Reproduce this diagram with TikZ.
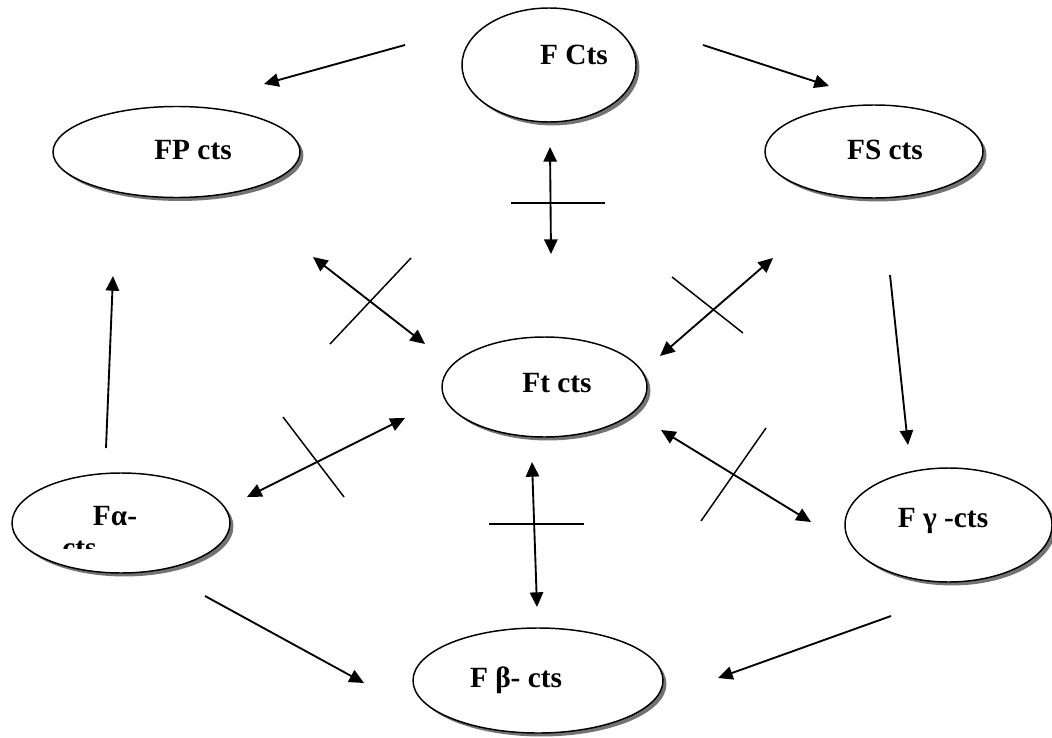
\documentclass[tikz,border=0pt]{standalone}
\usepackage{fontspec}
\setmainfont{Liberation Serif}
\usetikzlibrary{shapes.geometric,shadows,arrows.meta}
\begin{document}
\begin{tikzpicture}[x=0.75pt,y=-0.75pt,
  oval/.style={ellipse, draw=black, line width=1.1pt, fill=white, inner sep=0pt,
    drop shadow={shadow xshift=2.6pt, shadow yshift=-2.6pt, fill=black!55, opacity=1}},
  lbl/.style={font=\fontsize{22}{26}\selectfont\bfseries, anchor=base, inner sep=0pt},
  onearrow/.style={line width=1.4pt, -{Triangle[length=11pt,width=10pt]}},
  twoarrow/.style={line width=1.4pt, {Triangle[length=11pt,width=10pt]}-{Triangle[length=11pt,width=10pt]}},
  crossbar/.style={line width=1.1pt}]
\useasboundingbox (0,0) rectangle (1052,738);

% ellipses (sizes in pt = 0.75 * pixels)
\node[oval, minimum width=130.5pt, minimum height=85.5pt] (fc) at (549,65) {};
\node[oval, minimum width=185.25pt, minimum height=68.25pt] (fp) at (176.5,152) {};
\node[oval, minimum width=163.5pt, minimum height=69.75pt] (fs) at (874,151.5) {};
\node[oval, minimum width=153.75pt, minimum height=75pt] (ft) at (544.5,387) {};
\node[oval, minimum width=163.5pt, minimum height=75pt] (fa) at (121,523) {};
\node[oval, minimum width=155.25pt, minimum height=85.5pt] (fg) at (948.5,525) {};
\node[oval, minimum width=187.5pt, minimum height=78.75pt] (fb) at (538,680.5) {};

% labels
\node[lbl] (fc-t) at (574,65) {F Cts};
\node[lbl] (fp-t) at (193,160) {FP cts};
\node[lbl] (fs-t) at (885,160) {FS cts};
\node[lbl] (ft-t) at (557,392) {Ft cts};
\node[lbl] (fb-t) at (516,687) {F β- cts};
\node[lbl] (fg-t) at (943,527) {F γ -cts};
\node[lbl] (fa-t) at (115,525) {Fα-};
\begin{scope}
  \clip (50,530) rectangle (120,548);
  \node[lbl, anchor=base west] (fa-t2) at (62,557) {cts};
\end{scope}

% end points of connectors
\coordinate (a1s) at (405,45);  \coordinate (a1e) at (264,84);
\coordinate (a2s) at (703,45);  \coordinate (a2e) at (829,86);
\coordinate (a3s) at (890,275); \coordinate (a3e) at (908,445);
\coordinate (a4s) at (106,448); \coordinate (a4e) at (113,276);
\coordinate (a5s) at (205,596); \coordinate (a5e) at (364,683);
\coordinate (a6s) at (891,616); \coordinate (a6e) at (718,678);

\coordinate (b1s) at (550,147); \coordinate (b1e) at (551,254);
\coordinate (c1s) at (511,203); \coordinate (c1e) at (605,203);
\coordinate (b2s) at (313,257); \coordinate (b2e) at (425,344);
\coordinate (c2s) at (411,258); \coordinate (c2e) at (330,344);
\coordinate (b3s) at (773,258); \coordinate (b3e) at (660,356);
\coordinate (c3s) at (672,277); \coordinate (c3e) at (743,333);
\coordinate (b4s) at (405,418); \coordinate (b4e) at (247,497);
\coordinate (c4s) at (283,417); \coordinate (c4e) at (344,497);
\coordinate (b5s) at (532,462); \coordinate (b5e) at (537,607);
\coordinate (c5s) at (489,524); \coordinate (c5e) at (584,524);
\coordinate (b6s) at (661,430); \coordinate (b6e) at (811,522);
\coordinate (c6s) at (766,428); \coordinate (c6e) at (701,521);

% one-way arrows
\draw[onearrow] (a1s) -- (a1e);
\draw[onearrow] (a2s) -- (a2e);
\draw[onearrow] (a3s) -- (a3e);
\draw[onearrow] (a4s) -- (a4e);
\draw[onearrow] (a5s) -- (a5e);
\draw[onearrow] (a6s) -- (a6e);

% crossed double arrows
\draw[twoarrow] (b1s) -- (b1e);  \draw[crossbar] (c1s) -- (c1e);
\draw[twoarrow] (b2s) -- (b2e);  \draw[crossbar] (c2s) -- (c2e);
\draw[twoarrow] (b3s) -- (b3e);  \draw[crossbar] (c3s) -- (c3e);
\draw[twoarrow] (b4s) -- (b4e);  \draw[crossbar] (c4s) -- (c4e);
\draw[twoarrow] (b5s) -- (b5e);  \draw[crossbar] (c5s) -- (c5e);
\draw[twoarrow] (b6s) -- (b6e);  \draw[crossbar] (c6s) -- (c6e);
\end{tikzpicture}
\end{document}
